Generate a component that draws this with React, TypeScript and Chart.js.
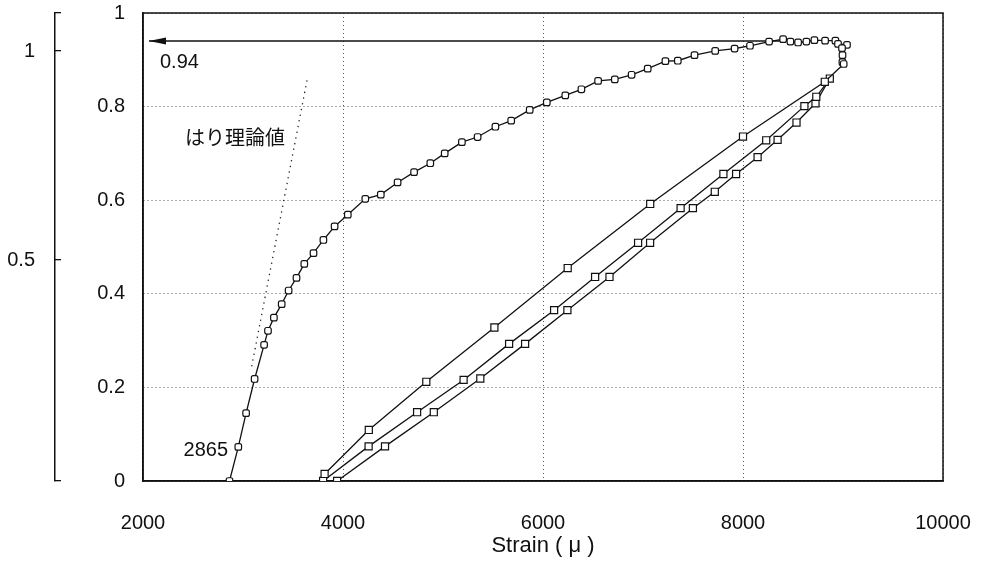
import React, { useEffect, useRef } from 'react';
import { Chart, registerables } from 'chart.js';

Chart.register(...registerables);

// ---- Data (strain in μ, load ratio) ----
const loadStrain = [2865, 2953, 3031, 3116, 3211, 3250, 3309, 3387, 3456, 3535, 3613, 3705, 3804, 3916, 4048, 4223, 4378, 4546, 4711, 4873, 5017, 5189, 5346, 5524, 5682, 5867, 6038, 6223, 6384, 6551, 6718, 6886, 7047, 7224, 7348, 7515, 7722, 7916, 8070, 8261, 8401, 8474, 8551, 8634, 8714, 8821, 8924, 8950, 9040, 8990, 8995, 8994, 9007];
const loadRatio = [0, 0.073, 0.145, 0.218, 0.291, 0.321, 0.349, 0.378, 0.407, 0.434, 0.464, 0.487, 0.515, 0.544, 0.569, 0.603, 0.612, 0.638, 0.66, 0.679, 0.7, 0.724, 0.735, 0.757, 0.77, 0.793, 0.809, 0.824, 0.837, 0.855, 0.858, 0.868, 0.881, 0.897, 0.898, 0.91, 0.919, 0.924, 0.93, 0.939, 0.944, 0.939, 0.937, 0.939, 0.942, 0.941, 0.941, 0.934, 0.932, 0.925, 0.91, 0.895, 0.891];

const unloadAStrain = [9007, 8818, 8000, 7072, 6247, 5514, 4833, 4258, 3816];
const unloadARatio = [0.891, 0.853, 0.736, 0.592, 0.455, 0.328, 0.212, 0.109, 0.015];

const reloadBStrain = [3801, 4256, 4741, 5206, 5661, 6111, 6521, 6951, 7376, 7804, 8232, 8614, 8733, 8868];
const reloadBRatio = [0, 0.074, 0.147, 0.216, 0.293, 0.365, 0.436, 0.509, 0.583, 0.656, 0.728, 0.801, 0.821, 0.86];

const unloadCStrain = [8868, 8725, 8535, 8346, 8146, 7931, 7718, 7499, 7071, 6665, 6244, 5821, 5373, 4908, 4420, 3941];
const unloadCRatio = [0.86, 0.807, 0.766, 0.729, 0.692, 0.656, 0.618, 0.583, 0.509, 0.436, 0.365, 0.293, 0.219, 0.147, 0.074, 0];

const theoryStrain = [3087, 3648];
const theoryRatio = [0.245, 0.865];

const arrowStrain = [8401, 2060];
const arrowRatio = [0.94, 0.94];

const xTicks = [2000, 4000, 6000, 8000, 10000];
const yTicks = [0, 0.2, 0.4, 0.6, 0.8, 1];
const y2Ticks = [0.5, 1];
const y2Range = [-0.0287, 1.091];

const peakLabel = '0.94';
const peakLabelPos = [2170, 0.895];
const startLabel = '2865';
const startLabelPos = [2850, 0.066];
const theoryLabel = 'はり理論値';
const theoryLabelPos = [2420, 0.735];
const xTitle = 'Strain ( μ )';

const FONT = '"Liberation Sans", Arial, sans-serif';
const JP_FONT = '"Noto Sans CJK JP", sans-serif';
const INK = '#111';

const pts = (xs: number[], ys: number[]) => xs.map((x, i) => ({ x, y: ys[i] }));

const zeroPad = (s: any) => {
  s.paddingTop = 0;
  s.paddingBottom = 0;
  s.paddingLeft = 0;
  s.paddingRight = 0;
};

const annotPlugin = {
  id: 'annot',
  beforeDatasetsDraw(chart: any) {
    const { ctx, chartArea: a } = chart;
    ctx.save();
    ctx.strokeStyle = INK;
    ctx.lineWidth = 1.5;
    ctx.strokeRect(a.left, a.top, a.right - a.left, a.bottom - a.top);
    ctx.restore();
  },
  afterDatasetsDraw(chart: any) {
    const { ctx } = chart;
    const xs = chart.scales.x;
    const ys = chart.scales.y;
    ctx.save();
    // arrow head
    const tx = xs.getPixelForValue(arrowStrain[1]);
    const ty = ys.getPixelForValue(arrowRatio[1]);
    ctx.fillStyle = INK;
    ctx.beginPath();
    ctx.moveTo(tx, ty);
    ctx.lineTo(tx + 17, ty - 3.5);
    ctx.lineTo(tx + 17, ty + 3.5);
    ctx.closePath();
    ctx.fill();
    // labels
    ctx.textBaseline = 'middle';
    ctx.font = `20px ${FONT}`;
    ctx.textAlign = 'left';
    ctx.fillText(peakLabel, xs.getPixelForValue(peakLabelPos[0]), ys.getPixelForValue(peakLabelPos[1]));
    ctx.textAlign = 'right';
    ctx.fillText(startLabel, xs.getPixelForValue(startLabelPos[0]), ys.getPixelForValue(startLabelPos[1]));
    ctx.font = `20px ${JP_FONT}`;
    ctx.textAlign = 'left';
    ctx.fillText(theoryLabel, xs.getPixelForValue(theoryLabelPos[0]), ys.getPixelForValue(theoryLabelPos[1]));
    ctx.restore();
  },
};

export default function App() {
  const ref = useRef<HTMLCanvasElement>(null);

  useEffect(() => {
    if (!ref.current) return;
    const tickFont = { family: FONT, size: 20 };
    const markerBase = {
      showLine: true,
      borderColor: INK,
      backgroundColor: '#fff',
      borderWidth: 1.3,
      pointBorderWidth: 1.2,
      pointBorderColor: INK,
      pointBackgroundColor: '#fff',
      tension: 0,
    };
    const chart = new Chart(ref.current, {
      type: 'scatter',
      data: {
        datasets: [
          { ...markerBase, data: pts(loadStrain, loadRatio), pointStyle: 'rectRounded', pointRadius: 3.8 },
          { ...markerBase, data: pts(unloadAStrain, unloadARatio), pointStyle: 'rect', pointRadius: (c: any) => (c.dataIndex === 0 ? 0 : 5) },
          { ...markerBase, data: pts(reloadBStrain, reloadBRatio), pointStyle: 'rect', pointRadius: 5 },
          { ...markerBase, data: pts(unloadCStrain, unloadCRatio), pointStyle: 'rect', pointRadius: (c: any) => (c.dataIndex === 0 ? 0 : 5) },
          { showLine: true, data: pts(theoryStrain, theoryRatio), borderColor: '#222', borderWidth: 1.3, borderDash: [1.3, 4.5], pointRadius: 0 },
          { showLine: true, data: pts(arrowStrain, arrowRatio), borderColor: INK, borderWidth: 1.5, pointRadius: 0 },
        ],
      },
      options: {
        animation: false,
        responsive: false,
        devicePixelRatio: 1,
        layout: { padding: { left: 0, top: 13, right: 39, bottom: 0 } },
        plugins: { legend: { display: false }, tooltip: { enabled: false } },
        scales: {
          x: {
            type: 'linear',
            position: 'bottom',
            min: xTicks[0],
            max: xTicks[xTicks.length - 1],
            afterBuildTicks: (s: any) => { s.ticks = xTicks.map((v) => ({ value: v })); },
            ticks: { callback: (v: any) => String(v), font: tickFont, color: INK, padding: 30, maxRotation: 0, autoSkip: false },
            grid: { color: '#555', lineWidth: 1, drawTicks: false },
            border: { display: true, color: INK, width: 1.5, dash: [1, 3] },
            title: { display: true, text: xTitle, font: { family: FONT, size: 22 }, color: INK, padding: { top: 0, bottom: 3 } },
            afterFit: (s: any) => { s.height = 81; zeroPad(s); },
          },
          y: {
            type: 'linear',
            position: 'left',
            weight: 0,
            min: 0,
            max: 1,
            afterBuildTicks: (s: any) => { s.ticks = yTicks.map((v) => ({ value: v })); },
            ticks: { callback: (v: any) => String(Number(Number(v).toFixed(1))), font: tickFont, color: INK, padding: 18 },
            grid: { color: '#555', lineWidth: 1, drawTicks: false },
            border: { display: true, color: INK, width: 1.5, dash: [1, 3] },
            afterFit: (s: any) => { s.width = 88; zeroPad(s); },
          },
          y2: {
            type: 'linear',
            position: 'left',
            weight: 10,
            min: y2Range[0],
            max: y2Range[1],
            afterBuildTicks: (s: any) => { s.ticks = [y2Range[0], ...y2Ticks, y2Range[1]].map((v) => ({ value: v })); },
            ticks: { callback: (v: any) => (y2Ticks.includes(v) ? String(v) : ''), font: tickFont, color: INK, padding: 26 },
            grid: { drawOnChartArea: false, drawTicks: true, tickLength: -6, color: INK, lineWidth: 1.3 },
            border: { display: true, color: INK, width: 1.5 },
            afterFit: (s: any) => { s.width = 55; zeroPad(s); },
          },
        },
      } as any,
      plugins: [annotPlugin],
    });
    return () => chart.destroy();
  }, []);

  return (
    <div style={{ position: 'fixed', left: 0, top: 0, width: 982, height: 562, background: '#fff' }}>
      <canvas ref={ref} width={982} height={562} style={{ display: 'block' }} />
    </div>
  );
}
